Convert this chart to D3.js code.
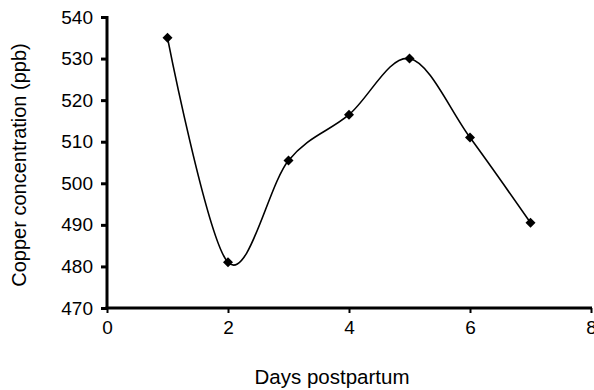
<!DOCTYPE html>
<html>
<head>
<meta charset="utf-8">
<script src="https://d3js.org/d3.v7.min.js"></script>
<style>
  body { margin: 0; background: #fff; }
  text { font-family: "Liberation Sans", Arial, sans-serif; fill: #000; }
</style>
</head>
<body>
<div id="chart"></div>
<script>
// values
var days = [1, 2, 3, 4, 5, 6, 7];
var copper = [535, 481, 505.5, 516.5, 530, 511, 490.5];
var xTicks = [0, 2, 4, 6, 8];
var yTicks = [470, 480, 490, 500, 510, 520, 530, 540];

var width = 594, height = 390;
var svg = d3.select("#chart").append("svg")
  .attr("width", width)
  .attr("height", height);

var x = d3.scaleLinear().domain([0, 8]).range([107, 591]);
var y = d3.scaleLinear().domain([470, 540]).range([308, 17]);

// y axis
var yAxis = svg.append("g")
  .attr("transform", "translate(107,0)")
  .call(d3.axisLeft(y).tickValues(yTicks).tickSize(6).tickPadding(8).tickFormat(d3.format("d")));
yAxis.select(".domain").attr("stroke", "#000").attr("stroke-width", 3)
  .attr("d", "M0," + (y(540) - 1) + "V" + (y(470) + 1));
yAxis.selectAll(".tick line").attr("stroke-width", 3);
yAxis.selectAll("text").style("font-size", "19px");

// x axis
var xAxis = svg.append("g")
  .attr("transform", "translate(0,308)")
  .call(d3.axisBottom(x).tickValues(xTicks).tickSize(5).tickPadding(8));
xAxis.select(".domain").attr("stroke", "#000").attr("stroke-width", 3)
  .attr("d", "M" + (x(0) - 1.5) + ",0H" + (x(8) + 1));
xAxis.selectAll(".tick line").attr("stroke-width", 2);
xAxis.selectAll("text").style("font-size", "19px");

// smoothed line
var pts = days.map(function (d, i) { return [d, copper[i]]; });
var line = d3.line()
  .x(function (d) { return x(d[0]); })
  .y(function (d) { return y(d[1]); })
  .curve(d3.curveCardinal.tension(0));

svg.append("path")
  .datum(pts)
  .attr("fill", "none")
  .attr("stroke", "#000")
  .attr("stroke-width", 1.6)
  .attr("d", line);

// diamond markers
svg.selectAll(".pt")
  .data(pts)
  .enter()
  .append("path")
    .attr("class", "pt")
    .attr("transform", function (d) { return "translate(" + x(d[0]) + "," + y(d[1]) + ")"; })
    .attr("d", "M0,-5L5,0L0,5L-5,0Z")
    .attr("fill", "#000");

// titles
svg.append("text")
  .attr("x", 332)
  .attr("y", 384)
  .attr("text-anchor", "middle")
  .style("font-size", "20.5px")
  .text("Days postpartum");

svg.append("text")
  .attr("transform", "translate(26,165) rotate(-90)")
  .attr("text-anchor", "middle")
  .style("font-size", "20px")
  .text("Copper concentration (ppb)");
</script>
</body>
</html>
